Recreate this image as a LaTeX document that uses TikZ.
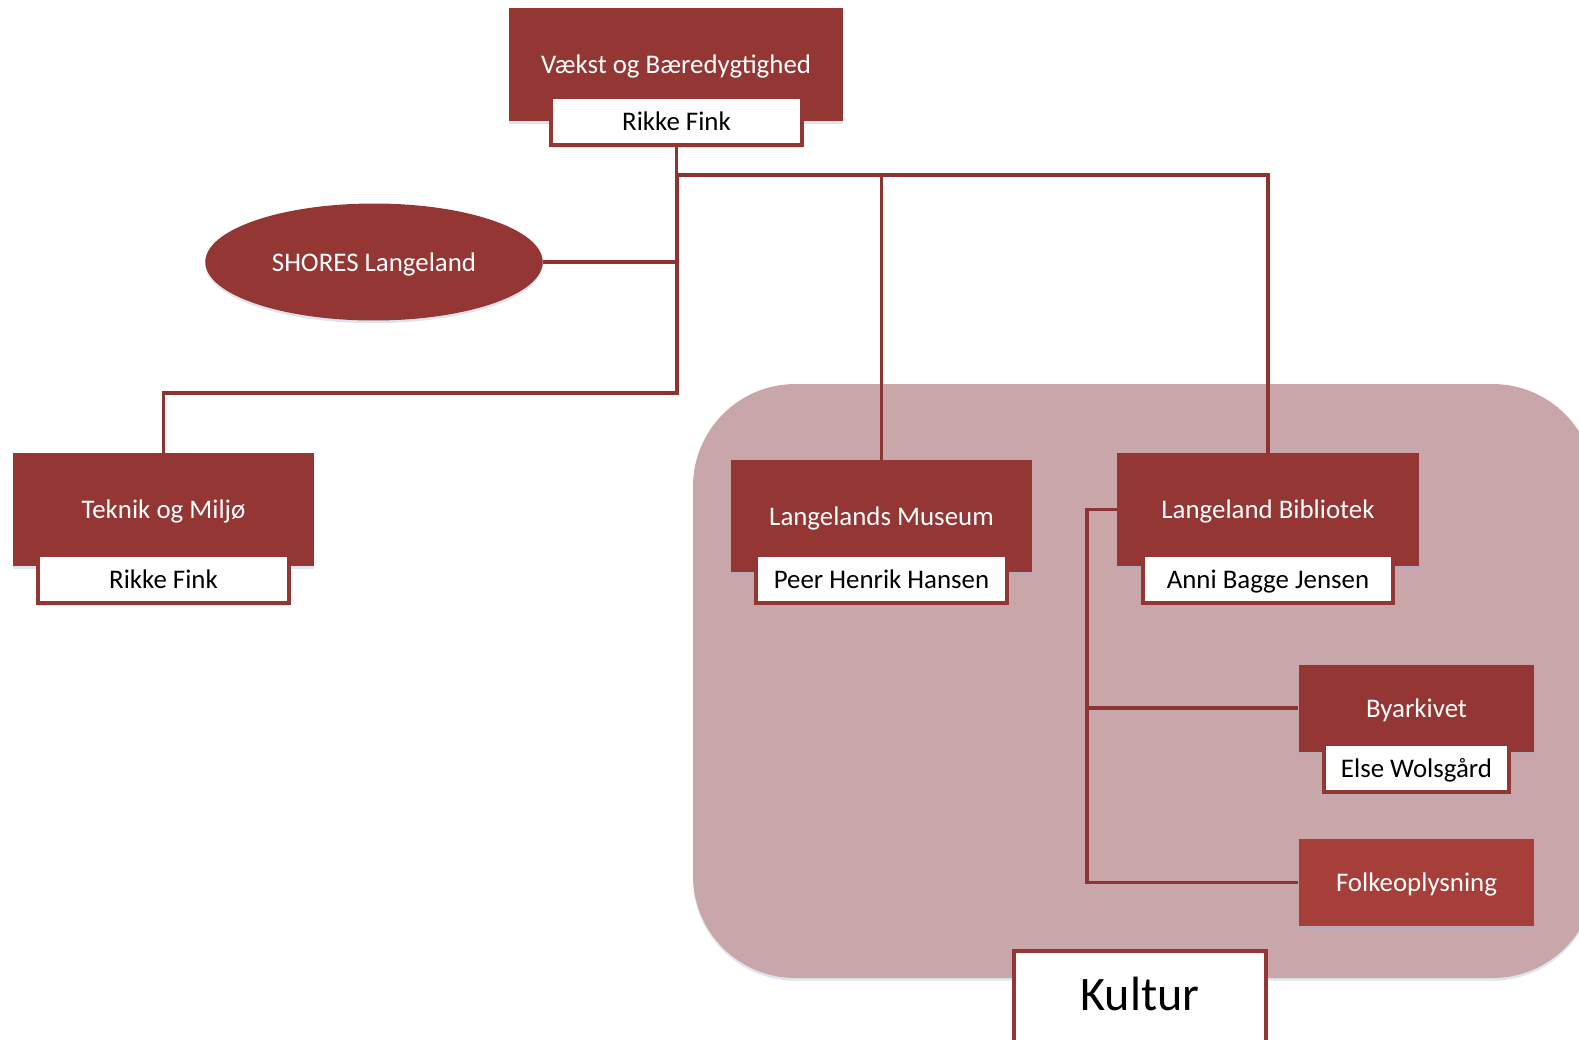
\documentclass[tikz,border=0pt]{standalone}
\usepackage{fontspec}
\setmainfont{Carlito}
\usepackage{xcolor}
\usetikzlibrary{shapes.geometric,shadows}

\definecolor{enhed}{HTML}{943634}
\definecolor{folke}{HTML}{A63F3A}
\definecolor{kulturbg}{HTML}{C8A6A9}
\definecolor{skyggefarve}{HTML}{9FB3CC}

\tikzset{
  skygge/.style={drop shadow={shadow xshift=0pt,shadow yshift=-1.5pt,fill=skyggefarve,opacity=0.35}},
  enhed/.style={rectangle,fill=enhed,text=white,inner sep=0pt,skygge,text depth=0pt,
    font=\fontsize{15.3}{18}\selectfont},
  leder/.style={rectangle,fill=white,draw=enhed,line width=2.2pt,inner sep=0pt,skygge,text depth=0pt,
    minimum height=0.97cm,font=\fontsize{15.3}{18}\selectfont},
  link/.style={draw=enhed!95!black,line width=2pt}
}

\begin{document}
\begin{tikzpicture}[x=0.02cm,y=-0.02cm]
        \useasboundingbox (0,0) rectangle (1579,1039);
        \clip (0,0) rectangle (1579,1039);
        \fill[kulturbg,skygge,rounded corners=2.05cm] (693,384) rectangle (1595,978);
        \node[enhed,minimum width=6.68cm,minimum height=2.26cm] (vaekst) at (676,64.5) {V\ae kst og B\ae redygtighed};
        \node[leder,minimum width=5.02cm] (vaekstleder) at (676.5,121) {Rikke Fink};
        \node[ellipse,fill=enhed,text=white,skygge,minimum width=6.75cm,minimum height=2.34cm,inner sep=0pt,
          text depth=0pt,font=\fontsize{15.3}{18}\selectfont] (shores) at (374,262) {SHORES Langeland};
        \node[enhed,minimum width=6.02cm,minimum height=2.26cm] (teknik) at (163.5,509.5) {Teknik og Milj\o};
        \node[leder,minimum width=5.02cm] (teknikleder) at (163.5,579) {Rikke Fink};
        \node[enhed,minimum width=6.02cm,minimum height=2.24cm] (museum) at (881.5,516) {Langelands Museum};
        \node[leder,minimum width=5.02cm] (museumleder) at (881.5,579) {Peer Henrik Hansen};
        \node[enhed,minimum width=6.04cm,minimum height=2.26cm] (bibliotek) at (1268,509.5) {Langeland Bibliotek};
        \node[leder,minimum width=5.0cm] (biblioteksleder) at (1268,579) {Anni Bagge Jensen};
        \node[enhed,minimum width=4.72cm,minimum height=1.74cm] (byarkiv) at (1416.5,708) {Byarkivet};
        \node[leder,minimum width=3.7cm] (byarkivleder) at (1416.5,768) {Else Wolsg\aa rd};
        \node[enhed,fill=folke,minimum width=4.72cm,minimum height=1.74cm] (folkeopl) at (1416.5,882.5) {Folkeoplysning};
        \node[leder,minimum width=5.04cm,minimum height=2.0cm,text height=19pt,text depth=8pt,
          font=\fontsize{27.4}{30}\selectfont] (kultur) at (1140,1001) {Kultur};
        \coordinate (top) at (677,175);
        \coordinate (midt) at (677,393);
        \coordinate (kb) at (1087,509.5);
        \draw[link] (vaekstleder.south) |- (top) -| (museum.north);
        \draw[link] (top) -| (bibliotek.north);
        \draw[link] (top) -- (midt) -| (teknik.north);
        \draw[link] (shores.east) -- (shores.east -| top);
        \draw[link] (bibliotek.west) -- (kb) |- (folkeopl.west);
        \draw[link] (kb) |- (byarkiv.west);
    \end{tikzpicture}
\end{document}
